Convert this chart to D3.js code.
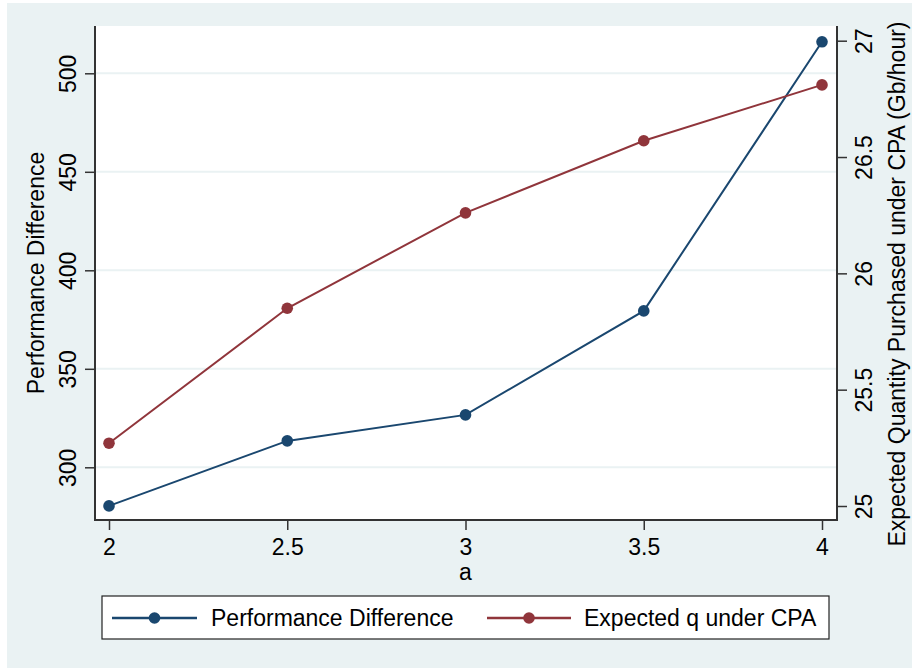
<!DOCTYPE html>
<html>
<head>
<meta charset="utf-8">
<script src="https://cdn.jsdelivr.net/npm/d3@7"></script>
<style>
  html, body { margin: 0; padding: 0; background: #ffffff; }
  svg { display: block; }
  text { font-family: "Liberation Sans", Arial, Helvetica, sans-serif; fill: #000; }
</style>
</head>
<body>
<svg id="chart" width="912" height="668"></svg>
<script>
// Values of the parameter a on the horizontal axis
const aValues = [2, 2.5, 3, 3.5, 4];
// Performance difference (left axis)
const perfDiff = [280.4, 313.4, 326.6, 379.4, 516.0];
// Expected quantity purchased under CPA, Gb/hour (right axis)
const expectedQ = [25.27, 25.85, 26.26, 26.57, 26.81];

const xTicks = [2, 2.5, 3, 3.5, 4];
const leftTicks = [300, 350, 400, 450, 500];
const rightTicks = [25, 25.5, 26, 26.5, 27];

const seriesNames = ["Performance Difference", "Expected q under CPA"];
const colors = ["#1a476f", "#90353b"];
const bg = "#eaf2f3";
const axisColor = "#333333";
const fontSize = 23;

const svg = d3.select("#chart");

// outer graph region
svg.append("rect").attr("x", 7).attr("y", 3).attr("width", 905).attr("height", 665).attr("fill", bg);

// plot region
const plot = { left: 95, right: 837, top: 26, bottom: 520 };
svg.append("rect")
  .attr("x", plot.left).attr("y", plot.top)
  .attr("width", plot.right - plot.left).attr("height", plot.bottom - plot.top)
  .attr("fill", "#ffffff");

const x = d3.scaleLinear().domain([2, 4]).range([109, 822]);
const yL = d3.scaleLinear().domain([300, 500]).range([467.3, 73.3]);
const yR = d3.scaleLinear().domain([25, 27]).range([506, 40.7]);

// horizontal grid lines from the left axis
svg.append("g").selectAll("line").data(leftTicks).join("line")
  .attr("x1", plot.left).attr("x2", plot.right)
  .attr("y1", d => yL(d)).attr("y2", d => yL(d))
  .attr("stroke", bg).attr("stroke-width", 2);

// axes
const tickFmt = d => String(d);
const gLeft = svg.append("g").attr("transform", `translate(${plot.left},0)`)
  .call(d3.axisLeft(yL).tickValues(leftTicks).tickFormat(tickFmt).tickSize(10).tickPadding(8));
const gRight = svg.append("g").attr("transform", `translate(${plot.right},0)`)
  .call(d3.axisRight(yR).tickValues(rightTicks).tickFormat(tickFmt).tickSize(10).tickPadding(8));
const gBottom = svg.append("g").attr("transform", `translate(0,${plot.bottom})`)
  .call(d3.axisBottom(x).tickValues(xTicks).tickFormat(tickFmt).tickSize(10).tickPadding(8));

[gLeft, gRight, gBottom].forEach(g => {
  g.select(".domain").remove();
  g.selectAll(".tick line").attr("stroke", axisColor).attr("stroke-width", 1.5);
  g.selectAll(".tick text").attr("font-size", fontSize).attr("fill", "#000")
    .style("font-family", '"Liberation Sans", Arial, sans-serif');
});

// rotated vertical tick labels on both y axes
gLeft.selectAll(".tick text")
  .attr("x", null).attr("dy", null)
  .attr("text-anchor", "middle")
  .attr("transform", "translate(-19,0) rotate(-90)");
gRight.selectAll(".tick text")
  .attr("x", null).attr("dy", null)
  .attr("text-anchor", "middle")
  .attr("transform", "translate(35,0) rotate(-90)");
gBottom.selectAll(".tick text").attr("dy", "0.71em").attr("y", 19);

// axis lines
const axisLines = svg.append("g").attr("stroke", axisColor).attr("stroke-width", 2);
axisLines.append("line").attr("x1", plot.left).attr("x2", plot.left).attr("y1", plot.top).attr("y2", plot.bottom + 1);
axisLines.append("line").attr("x1", plot.right).attr("x2", plot.right).attr("y1", plot.top).attr("y2", plot.bottom + 1);
axisLines.append("line").attr("x1", plot.left - 1).attr("x2", plot.right + 1).attr("y1", plot.bottom).attr("y2", plot.bottom);

// axis titles
svg.append("text").attr("font-size", fontSize).attr("text-anchor", "middle")
  .attr("transform", `translate(44,${(plot.top + plot.bottom) / 2}) rotate(-90)`)
  .text("Performance Difference");
svg.append("text").attr("font-size", fontSize).attr("text-anchor", "middle")
  .attr("transform", `translate(905,${(plot.top + plot.bottom) / 2 + 11}) rotate(-90)`)
  .text("Expected Quantity Purchased under CPA (Gb/hour)");
svg.append("text").attr("font-size", fontSize).attr("text-anchor", "middle")
  .attr("x", (x(2) + x(4)) / 2).attr("y", 580)
  .text("a");

// series
const series = [
  { name: seriesNames[0], values: perfDiff, y: yL, color: colors[0] },
  { name: seriesNames[1], values: expectedQ, y: yR, color: colors[1] }
];
series.forEach(s => {
  const pts = aValues.map((a, i) => [x(a), s.y(s.values[i])]);
  svg.append("path").attr("d", d3.line()(pts))
    .attr("fill", "none").attr("stroke", s.color).attr("stroke-width", 2);
  svg.append("g").selectAll("circle").data(pts).join("circle")
    .attr("cx", d => d[0]).attr("cy", d => d[1]).attr("r", 5.8)
    .attr("fill", s.color);
});

// legend
const lg = svg.append("g");
lg.append("rect").attr("x", 102).attr("y", 596).attr("width", 727).attr("height", 43)
  .attr("fill", "#ffffff").attr("stroke", "#222").attr("stroke-width", 1.2);
const legendItems = [
  { x0: 112, x1: 197, tx: 211 },
  { x0: 487, x1: 571, tx: 584 }
];
legendItems.forEach((it, i) => {
  const yMid = 618;
  lg.append("line").attr("x1", it.x0).attr("x2", it.x1).attr("y1", yMid).attr("y2", yMid)
    .attr("stroke", colors[i]).attr("stroke-width", 2.5);
  lg.append("circle").attr("cx", (it.x0 + it.x1) / 2).attr("cy", yMid).attr("r", 5.8).attr("fill", colors[i]);
  lg.append("text").attr("x", it.tx).attr("y", yMid + 8).attr("font-size", fontSize).text(seriesNames[i]);
});
</script>
</body>
</html>
